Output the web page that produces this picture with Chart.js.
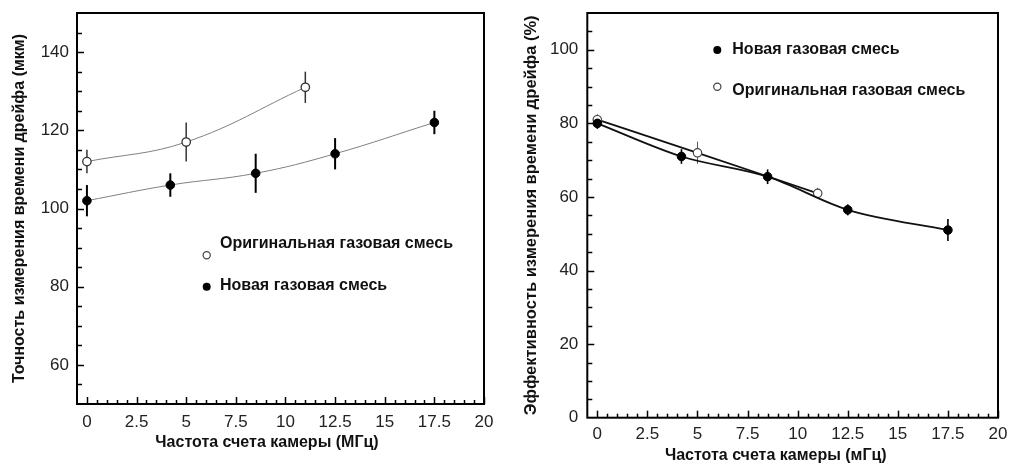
<!DOCTYPE html>
<html><head><meta charset="utf-8">
<script src="https://cdn.jsdelivr.net/npm/chart.js@4.4.1/dist/chart.umd.min.js"></script>
<style>
html,body{margin:0;padding:0;background:#fff;}
#wrap{position:relative;width:1012px;height:464px;overflow:hidden;background:#fff}
.box{position:absolute;top:0;height:464px}
canvas{display:block}
</style></head><body>
<div id="wrap">
<div class="box" style="left:0;width:500px"><canvas id="c1" width="500" height="464"></canvas></div>
<div class="box" style="left:500px;width:512px"><canvas id="c2" width="512" height="464"></canvas></div>
</div>
<script>
// ---------- data ----------
const xTickLabels = [0, 2.5, 5, 7.5, 10, 12.5, 15, 17.5, 20];
const leftYTicks = [60, 80, 100, 120, 140];
const rightYTicks = [0, 20, 40, 60, 80, 100];

const seriesNames = ['Оригинальная газовая смесь', 'Новая газовая смесь'];
const xTitleLeft = 'Частота счета камеры (МГц)';
const xTitleRight = 'Частота счета камеры (мГц)';
const yTitleLeft = 'Точность измерения времени дрейфа (мкм)';
const yTitleRight = 'Эффективность измерения времени дрейфа (%)';

const leftOrigX = [0, 5, 11];
const leftOrigY = [112, 117, 131];
const leftOrigErr = [3, 5, 4];
const leftNewX = [0, 4.2, 8.5, 12.5, 17.5];
const leftNewY = [102, 106, 109, 114, 122];
const leftNewErr = [4, 3, 5, 4, 3];

const rightNewX = [0, 4.2, 8.5, 12.5, 17.5];
const rightNewY = [80, 71, 65.5, 56.5, 51];
const rightNewErr = [1.5, 2, 2, 1.5, 3];
const rightOrigX = [0, 5, 11];
const rightOrigY = [81, 72, 61];
const rightOrigErr = [1.5, 3, 1.5];

// ---------- helpers ----------
const FONT = "'Liberation Sans', Arial, sans-serif";
function pts(xs, ys) { return xs.map((x, i) => ({x: x, y: ys[i]})); }

const extrasPlugin = {
  id: 'extras',
  beforeDatasetsDraw(chart, args, o) {
    const ctx = chart.ctx, xs = chart.scales.x, ys = chart.scales.y;
    ctx.save();
    (o.errors || []).forEach(e => {
      ctx.strokeStyle = e.color; ctx.lineWidth = e.width;
      e.x.forEach((xv, i) => {
        const px = xs.getPixelForValue(xv);
        ctx.beginPath();
        ctx.moveTo(px, ys.getPixelForValue(e.y[i] - e.err[i]));
        ctx.lineTo(px, ys.getPixelForValue(e.y[i] + e.err[i]));
        ctx.stroke();
      });
    });
    ctx.restore();
  },
  afterDraw(chart, args, o) {
    const ctx = chart.ctx, a = chart.chartArea, xs = chart.scales.x, ys = chart.scales.y;
    ctx.save();
    // inside ticks
    ctx.strokeStyle = '#000'; ctx.lineWidth = 1.5;
    const yMajor = ys.ticks.map(t => t.value);
    for (let v = ys.min; v <= ys.max + 1e-9; v += o.yMinor) {
      if (v === ys.min || v === ys.max) continue;
      const len = yMajor.includes(v) ? 7 : 5;
      const py = Math.round(ys.getPixelForValue(v)) + 0.5;
      ctx.beginPath(); ctx.moveTo(a.left, py); ctx.lineTo(a.left + len, py); ctx.stroke();
    }
    const xMajor = xs.ticks.map(t => t.value);
    for (let i = 0; i <= 40; i++) {
      const v = i * 0.5;
      const len = xMajor.includes(v) ? 7 : 4;
      const px = Math.round(xs.getPixelForValue(v)) + 0.5;
      ctx.beginPath(); ctx.moveTo(px, a.bottom); ctx.lineTo(px, a.bottom - len); ctx.stroke();
    }
    // frame
    ctx.lineWidth = 2; ctx.strokeStyle = '#000';
    ctx.strokeRect(a.left, a.top, a.right - a.left, a.bottom - a.top);
    // legend
    ctx.textBaseline = 'middle'; ctx.textAlign = 'left';
    ctx.font = 'bold 16px ' + FONT; ctx.fillStyle = '#111';
    (o.legend || []).forEach(l => {
      ctx.beginPath(); ctx.arc(l.mx, l.my, l.r, 0, Math.PI * 2);
      if (l.filled) { ctx.fillStyle = '#000'; ctx.fill(); }
      else { ctx.fillStyle = '#fff'; ctx.fill(); ctx.lineWidth = 1.2; ctx.strokeStyle = '#444'; ctx.stroke(); }
      ctx.fillStyle = '#111';
      ctx.fillText(l.text, l.tx, l.ty);
    });
    // x title
    ctx.textAlign = 'center';
    ctx.fillText(o.xTitle.text, o.xTitle.x, o.xTitle.y);
    ctx.restore();
  }
};

function makeScales(yMin, yMax, yTicks, yWidth, yPad, yTitle, yTitleSize, yTitlePad, xHeight, xPad) {
  return {
    x: {
      type: 'linear', min: -0.5, max: 20,
      afterBuildTicks: s => { s.ticks = xTickLabels.map(v => ({value: v})); },
      afterFit: s => { s.height = xHeight; s.paddingLeft = 0; s.paddingRight = 0; },
      grid: {display: false, drawTicks: false},
      border: {display: false},
      ticks: {callback: v => String(v), font: {family: FONT, size: 17}, color: '#222', padding: xPad, maxRotation: 0, autoSkip: false}
    },
    y: {
      type: 'linear', min: yMin, max: yMax,
      afterBuildTicks: s => { s.ticks = yTicks.map(v => ({value: v})); },
      afterFit: s => { s.width = yWidth; s.paddingTop = 0; s.paddingBottom = 0; },
      grid: {display: false, drawTicks: false},
      border: {display: false},
      ticks: {callback: v => String(v), font: {family: FONT, size: 17}, color: '#222', padding: yPad},
      title: {display: true, text: yTitle, font: {family: FONT, size: yTitleSize, weight: 'bold'}, color: '#111', padding: {top: yTitlePad, bottom: 0}}
    }
  };
}

const common = {
  responsive: false, animation: false, events: [],
  plugins: {legend: {display: false}, tooltip: {enabled: false}}
};

new Chart(document.getElementById('c1'), {
  type: 'line',
  data: {datasets: [
    {label: seriesNames[0], data: pts(leftOrigX, leftOrigY), borderColor: '#808080', borderWidth: 1,
     tension: 0.4, pointRadius: 4.2, pointBackgroundColor: '#fff', pointBorderColor: '#333', pointBorderWidth: 1.3},
    {label: seriesNames[1], data: pts(leftNewX, leftNewY), borderColor: '#808080', borderWidth: 1,
     tension: 0.4, pointRadius: 4.3, pointBackgroundColor: '#000', pointBorderColor: '#000', pointBorderWidth: 1}
  ]},
  options: Object.assign({}, common, {
    layout: {padding: {top: 13, right: 16, left: 0, bottom: 0}},
    scales: makeScales(50, 150, leftYTicks, 77, 8, yTitleLeft, 16, 9.5, 60, 8),
    plugins: Object.assign({}, common.plugins, {extras: {
      yMinor: 5,
      errors: [
        {x: leftOrigX, y: leftOrigY, err: leftOrigErr, color: '#333', width: 1.5},
        {x: leftNewX, y: leftNewY, err: leftNewErr, color: '#000', width: 2}
      ],
      legend: [
        {mx: 206.7, my: 255.3, r: 3.6, filled: false, text: seriesNames[0], tx: 220, ty: 244},
        {mx: 206.7, my: 286.7, r: 4, filled: true, text: seriesNames[1], tx: 220, ty: 286}
      ],
      xTitle: {text: xTitleLeft, x: 267, y: 442.5}
    }})
  }),
  plugins: [extrasPlugin]
});

new Chart(document.getElementById('c2'), {
  type: 'line',
  data: {datasets: [
    {label: seriesNames[1], data: pts(rightNewX, rightNewY), borderColor: '#111', borderWidth: 1.8,
     cubicInterpolationMode: 'monotone', pointRadius: 4.3, pointBackgroundColor: '#000', pointBorderColor: '#000', pointBorderWidth: 1},
    {label: seriesNames[0], data: pts(rightOrigX, rightOrigY), borderColor: '#111', borderWidth: 1.8,
     cubicInterpolationMode: 'monotone', pointRadius: 4.2, pointBackgroundColor: '#fff', pointBorderColor: '#444', pointBorderWidth: 1.2}
  ]},
  options: Object.assign({}, common, {
    layout: {padding: {top: 13, right: 14, left: 0, bottom: 0}},
    scales: makeScales(0, 110, rightYTicks, 87.3, 9, yTitleRight, 16.5, 21.8, 46.3, 6),
    plugins: Object.assign({}, common.plugins, {extras: {
      yMinor: 5,
      errors: [
        {x: rightOrigX, y: rightOrigY, err: rightOrigErr, color: '#555', width: 1},
        {x: rightNewX, y: rightNewY, err: rightNewErr, color: '#000', width: 1.6}
      ],
      legend: [
        {mx: 217.3, my: 50, r: 4, filled: true, text: seriesNames[1], tx: 232.3, ty: 50},
        {mx: 217.3, my: 86.7, r: 3.6, filled: false, text: seriesNames[0], tx: 232.3, ty: 91}
      ],
      xTitle: {text: xTitleRight, x: 275.8, y: 455.5}
    }})
  }),
  plugins: [extrasPlugin]
});
</script>
</body></html>
